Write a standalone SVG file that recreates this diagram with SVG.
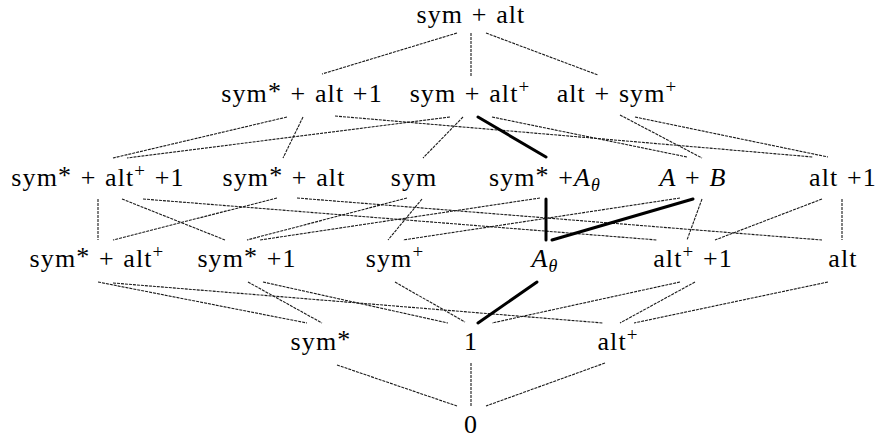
<svg xmlns="http://www.w3.org/2000/svg" width="879" height="441" viewBox="0 0 879 441">
  <style>
    text { font-family: "Liberation Serif", "Times New Roman", serif; font-size: 26px; fill: #000; text-anchor: middle; letter-spacing: 1.1px; word-spacing: 1px; }
    .star { font-size: 26px; }
    .sup { font-size: 19px; }
    .sub { font-size: 18px; }
    .it { font-style: italic; }
    .e { stroke: #1a1a1a; stroke-width: 1.1; stroke-dasharray: 3 1; fill: none; }
    .b { stroke: #000; stroke-width: 3; stroke-linecap: round; fill: none; }
  </style>
  <rect width="879" height="441" fill="#fff"/>

  <!-- connectors of the lattice -->
  <g id="edges">
    <!-- top to first row -->
    <line class="e" x1="457" y1="33" x2="322" y2="74"/>
    <line class="e" x1="471" y1="33" x2="471" y2="76"/>
    <line class="e" x1="486" y1="33" x2="598" y2="75"/>
    <!-- first row to second row -->
    <line class="e" x1="287" y1="117" x2="113" y2="158"/>
    <line class="e" x1="303" y1="117" x2="283" y2="158"/>
    <line class="e" x1="335" y1="116" x2="813" y2="157"/>
    <line class="e" x1="450" y1="117" x2="127" y2="158"/>
    <line class="e" x1="463" y1="117" x2="423" y2="158"/>
    <line class="b" x1="478" y1="117" x2="546" y2="157"/>
    <line class="e" x1="492" y1="117" x2="687" y2="157"/>
    <line class="e" x1="620" y1="115" x2="702" y2="158"/>
    <line class="e" x1="635" y1="117" x2="828" y2="157"/>
    <!-- second row to third row -->
    <line class="e" x1="98" y1="199" x2="98" y2="240"/>
    <line class="e" x1="122" y1="199" x2="225" y2="240"/>
    <line class="e" x1="143" y1="199" x2="657" y2="240"/>
    <line class="e" x1="277" y1="198" x2="113" y2="240"/>
    <line class="e" x1="297" y1="198" x2="822" y2="240"/>
    <line class="e" x1="407" y1="198" x2="247" y2="240"/>
    <line class="e" x1="422" y1="199" x2="388" y2="240"/>
    <line class="e" x1="540" y1="198" x2="260" y2="240"/>
    <line class="b" x1="546" y1="199" x2="546" y2="240"/>
    <line class="e" x1="680" y1="198" x2="403" y2="240"/>
    <line class="b" x1="693" y1="199" x2="552" y2="240"/>
    <line class="e" x1="702" y1="199" x2="687" y2="240"/>
    <line class="e" x1="822" y1="199" x2="715" y2="240"/>
    <line class="e" x1="842" y1="199" x2="842" y2="240"/>
    <!-- third row to fourth row -->
    <line class="e" x1="98" y1="282" x2="307" y2="323"/>
    <line class="e" x1="113" y1="283" x2="603" y2="323"/>
    <line class="e" x1="248" y1="282" x2="322" y2="323"/>
    <line class="e" x1="263" y1="282" x2="448" y2="323"/>
    <line class="e" x1="395" y1="282" x2="465" y2="322"/>
    <line class="b" x1="537" y1="282" x2="478" y2="323"/>
    <line class="e" x1="680" y1="282" x2="492" y2="323"/>
    <line class="e" x1="695" y1="282" x2="620" y2="323"/>
    <line class="e" x1="828" y1="282" x2="634" y2="323"/>
    <!-- fourth row to bottom -->
    <line class="e" x1="337" y1="365" x2="457" y2="406"/>
    <line class="e" x1="471" y1="363" x2="471" y2="406"/>
    <line class="e" x1="605" y1="363" x2="486" y2="406"/>
  </g>

  <!-- top -->
  <g id="n-sym-alt"><text x="471" y="23">sym + alt</text></g>

  <!-- first row -->
  <g id="n-symstar-alt-1"><text x="302" y="102">sym<tspan class="star" dy="-2">*</tspan><tspan dy="2"> + alt +1</tspan></text></g>
  <g id="n-sym-altplus"><text x="470" y="102">sym + alt<tspan class="sup" dy="-9">+</tspan></text></g>
  <g id="n-alt-symplus"><text x="617" y="102">alt + sym<tspan class="sup" dy="-9">+</tspan></text></g>

  <!-- second row -->
  <g id="n-symstar-altplus-1"><text x="98" y="186">sym<tspan class="star" dy="-2">*</tspan><tspan dy="2"> + alt</tspan><tspan class="sup" dy="-9">+</tspan><tspan dy="9"> +1</tspan></text></g>
  <g id="n-symstar-alt"><text x="284" y="186">sym<tspan class="star" dy="-2">*</tspan><tspan dy="2"> + alt</tspan></text></g>
  <g id="n-sym"><text x="414" y="186">sym</text></g>
  <g id="n-symstar-atheta"><text x="545" y="186">sym<tspan class="star" dy="-2">*</tspan><tspan dy="2"> +</tspan><tspan class="it">A</tspan><tspan class="sub it" dy="5">θ</tspan></text></g>
  <g id="n-a-b"><text x="693" y="186"><tspan class="it">A</tspan> + <tspan class="it">B</tspan></text></g>
  <g id="n-alt-1"><text x="843" y="186">alt +1</text></g>

  <!-- third row -->
  <g id="n-symstar-altplus"><text x="97" y="267">sym<tspan class="star" dy="-2">*</tspan><tspan dy="2"> + alt</tspan><tspan class="sup" dy="-9">+</tspan></text></g>
  <g id="n-symstar-1"><text x="247" y="267">sym<tspan class="star" dy="-2">*</tspan><tspan dy="2"> +1</tspan></text></g>
  <g id="n-symplus"><text x="395" y="267">sym<tspan class="sup" dy="-9">+</tspan></text></g>
  <g id="n-atheta"><text x="545" y="267"><tspan class="it">A</tspan><tspan class="sub it" dy="5">θ</tspan></text></g>
  <g id="n-altplus-1"><text x="693" y="267">alt<tspan class="sup" dy="-9">+</tspan><tspan dy="9"> +1</tspan></text></g>
  <g id="n-alt"><text x="843" y="267">alt</text></g>

  <!-- fourth row -->
  <g id="n-symstar"><text x="321" y="350">sym<tspan class="star" dy="-2">*</tspan></text></g>
  <g id="n-one"><text x="471" y="350">1</text></g>
  <g id="n-altplus"><text x="618" y="350">alt<tspan class="sup" dy="-9">+</tspan></text></g>

  <!-- bottom -->
  <g id="n-zero"><text x="471" y="433">0</text></g>
</svg>
